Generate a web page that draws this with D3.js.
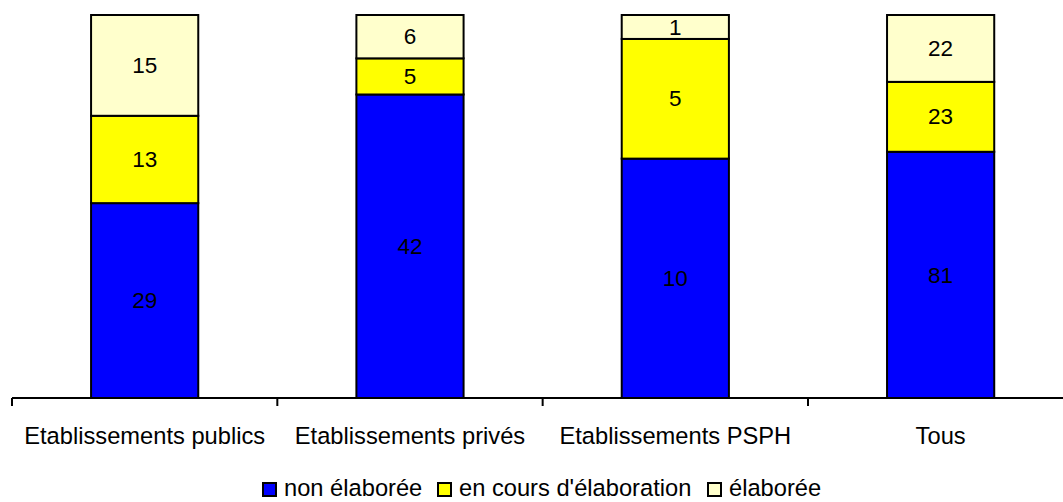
<!DOCTYPE html>
<html><head><meta charset="utf-8">
<script src="https://cdn.jsdelivr.net/npm/d3@7"></script>
<style>body{margin:0;background:#fff}svg{display:block;font-family:"Liberation Sans",Arial,sans-serif}</style>
</head><body><svg id="c" width="1063" height="502"></svg>
<script>
const categories = ["Etablissements publics","Etablissements privés","Etablissements PSPH","Tous"];
const seriesNames = ["non élaborée","en cours d'élaboration","élaborée"];
const nonElaboree = [29,42,10,81];
const enCours = [13,5,5,23];
const elaboree = [15,6,1,22];
const colors = ["#0000FF","#FFFF00","#FFFFCC"];

(function(){
const svg = d3.select("#c");
const pl = 12, pr = 1073.3, pt = 15, pb = 398;
const FS = 23.7;
const x = d3.scaleBand().domain(categories).range([pl,pr]).paddingInner(0).paddingOuter(0);
const y = d3.scaleLinear().domain([0,1]).range([pb,pt]);
const rows = categories.map((c,i)=>({cat:c, "0":nonElaboree[i], "1":enCours[i], "2":elaboree[i]}));
const stack = d3.stack().keys(["0","1","2"]).offset(d3.stackOffsetExpand);
const layers = stack(rows);
const bw = x.bandwidth()*0.404;

layers.forEach((layer,k)=>{
  const g = svg.append("g");
  g.selectAll("rect").data(layer).enter().append("rect")
    .attr("x",d=>x(d.data.cat)+x.bandwidth()/2-bw/2)
    .attr("width",bw)
    .attr("y",d=>y(d[1]))
    .attr("height",d=>y(d[0])-y(d[1]))
    .attr("fill",colors[k]).attr("stroke","#000").attr("stroke-width",2);
  g.selectAll("text").data(layer).enter().append("text")
    .attr("x",d=>x(d.data.cat)+x.bandwidth()/2)
    .attr("y",d=>(y(d[0])+y(d[1]))/2)
    .attr("dy","0.34em")
    .attr("text-anchor","middle").attr("font-size",22.5).attr("fill","#000")
    .text(d=>d.data[layer.key]);
});

const axg = svg.append("g").attr("transform",`translate(0,${pb})`);
axg.append("line").attr("x1",pl).attr("x2",1063).attr("stroke","#000").attr("stroke-width",2);
const bounds = categories.map(c=>x(c)).concat([pr]);
axg.selectAll("line.tk").data(bounds).enter().append("line").attr("class","tk")
  .attr("x1",d=>d).attr("x2",d=>d).attr("y1",0).attr("y2",8).attr("stroke","#000").attr("stroke-width",2);
axg.selectAll("text.lb").data(categories).enter().append("text").attr("class","lb")
  .attr("x",d=>x(d)+x.bandwidth()/2).attr("y",46).attr("text-anchor","middle")
  .attr("font-size",FS).text(d=>d);

const leg = svg.append("g");
const legPos = [263, 438, 708];
seriesNames.forEach((n,i)=>{
  leg.append("rect").attr("x",legPos[i]).attr("y",483).attr("width",13).attr("height",13)
    .attr("fill",colors[i]).attr("stroke","#000").attr("stroke-width",2);
  leg.append("text").attr("x",legPos[i]+21).attr("y",496).attr("font-size",FS).text(n);
});
})();
</script></body></html>
